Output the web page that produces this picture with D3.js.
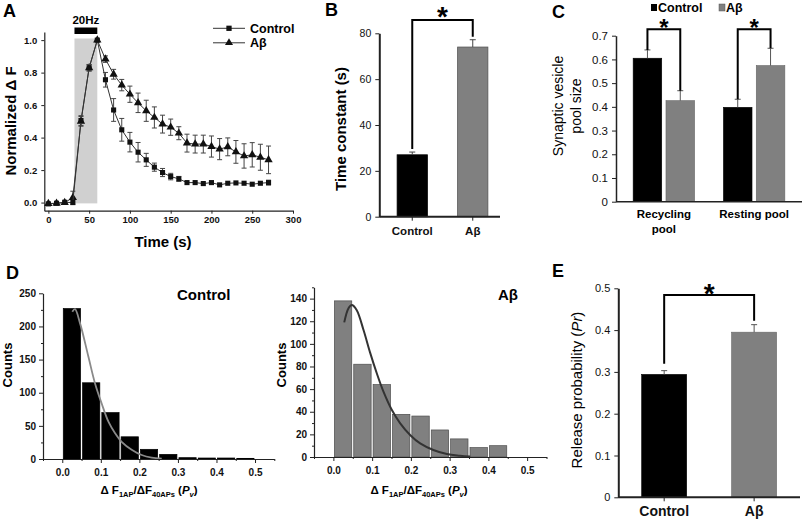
<!DOCTYPE html>
<html><head><meta charset="utf-8">
<script src="https://cdn.jsdelivr.net/npm/d3@7"></script>
<style>
body{margin:0;background:#fff}
svg text{font-family:Arial,"Liberation Sans",sans-serif}
</style>
</head><body>
<svg id="c" width="803" height="526"></svg>
<script>
// ---------- DATA ----------
// Panel A
const timeA = [0,10,20,30,40,50,60,70,80,90,100,110,120,130,140,150,160,170,180,190,200,210,220,230,240,250,260,270];
const ctrlA = [-0.008,-0.004,0.002,0.0,0.505,0.83,1.0,0.756,0.57,0.448,0.372,0.31,0.263,0.218,0.185,0.16,0.146,0.123,0.123,0.117,0.123,0.109,0.119,0.121,0.119,0.113,0.119,0.123];
const ctrlErrA = [0.01,0.005,0.01,0.01,0.03,0.02,0.0,0.045,0.07,0.07,0.06,0.06,0.04,0.025,0.025,0.02,0.015,0.01,0.01,0.01,0.01,0.01,0.01,0.01,0.01,0.01,0.01,0.015];
const abA = [-0.006,-0.004,0.0,0.03,0.5,0.83,1.0,0.883,0.79,0.723,0.667,0.614,0.565,0.524,0.483,0.464,0.427,0.366,0.36,0.36,0.345,0.329,0.343,0.312,0.287,0.294,0.279,0.263];
const abErrA = [0.01,0.005,0.01,0.04,0.03,0.02,0.0,0.02,0.03,0.035,0.05,0.06,0.065,0.065,0.055,0.05,0.04,0.055,0.055,0.055,0.065,0.065,0.055,0.07,0.075,0.075,0.08,0.085];
const stimA = [32, 60];
const seriesNamesA = ["Control", "Aβ"];
// Panel B
const groupsB = ["Control", "Aβ"];
const tauB = [27, 74];
const tauErrB = [1.2, 3.2];
// Panel C
const poolCats = ["Recycling pool", "Resting pool"];
const poolCtrl = [0.605, 0.398];
const poolCtrlErr = [0.035, 0.034];
const poolAb = [0.426, 0.574];
const poolAbErr = [0.042, 0.073];
// Panel D
const binStarts = [0,0.05,0.1,0.15,0.2,0.25,0.3,0.35,0.4,0.45];
const histCtrl = [227,115,70,33.5,14.6,7,2,1.5,1.5,1];
const histAb = [138,82,64,37.7,36.2,23.9,16,8.3,10,0];
const fitCtrlX = [0.026,0.033,0.046,0.0675,0.085,0.102,0.12,0.137,0.154,0.18,0.206,0.232,0.258];
const fitCtrlY = [222,226,205,155,114,84,56,39,26,14,6,2,0.5];
const fitAbX = [0.028,0.039,0.0475,0.06,0.078,0.095,0.112,0.129,0.151,0.172,0.198,0.224,0.258,0.293,0.327,0.353];
const fitAbY = [119,131.5,134.4,130,112,92,74,58,41.5,30,19.5,12,6.2,2.6,1.2,0.5];
// Panel E
const groupsE = ["Control", "Aβ"];
const prE = [0.294, 0.395];
const prErrE = [0.009, 0.018];

// ---------- DRAW ----------
const svg = d3.select("#c");
const GRAY = "#808080";

function letter(x, y, t) {
  svg.append("text").attr("x", x).attr("y", y).text(t)
    .attr("font-size", 18).attr("font-weight", "bold");
}
function styleAxis(g, fs, fw) {
  g.selectAll("path").attr("stroke", "#222").attr("stroke-width", 1.2);
  g.selectAll("line").attr("stroke", "#222");
  g.selectAll("text").attr("font-size", fs).attr("font-weight", fw)
    .attr("font-family", "Arial, 'Liberation Sans', sans-serif").attr("fill", "#111");
}
function star(x, y, fs) {
  svg.append("text").attr("x", x).attr("y", y).attr("text-anchor", "middle")
    .attr("font-size", fs).attr("font-weight", "bold").text("*");
}
function bracket(x1, y1, x2, y2, yTop) {
  svg.append("path").attr("d", `M${x1},${y1}V${yTop}H${x2}V${y2}`)
    .attr("fill", "none").attr("stroke", "#000").attr("stroke-width", 2);
}
function rotLabel(x, y, t, fs, fw) {
  return svg.append("text").attr("transform", `translate(${x},${y}) rotate(-90)`)
    .attr("text-anchor", "middle").attr("font-size", fs).attr("font-weight", fw).text(t);
}

// ===== Panel A =====
letter(3, 17, "A");
{
  const x = d3.scaleLinear().domain([-5, 300]).range([44.3, 293]);
  const y = d3.scaleLinear().domain([-0.05, 1.05]).range([210.7, 32]);
  svg.append("rect").attr("x", x(stimA[0])).attr("width", x(stimA[1]) - x(stimA[0]))
    .attr("y", y(1.01)).attr("height", y(-0.005) - y(1.01)).attr("fill", "#d0d0d0");
  svg.append("rect").attr("x", x(stimA[0])).attr("width", x(stimA[1]) - x(stimA[0]))
    .attr("y", 27.5).attr("height", 6.5).attr("fill", "#000");
  svg.append("text").attr("x", (x(stimA[0]) + x(stimA[1])) / 2).attr("y", 23.5)
    .attr("text-anchor", "middle").attr("font-size", 11.5).attr("font-weight", "bold").text("20Hz");
  const ax = svg.append("g").attr("transform", "translate(0,210.7)")
    .call(d3.axisBottom(x).tickValues([0,50,100,150,200,250,300]).tickSize(3).tickSizeOuter(0).tickPadding(3));
  styleAxis(ax, 9.5, "bold");
  const ay = svg.append("g").attr("transform", "translate(44.3,0)")
    .call(d3.axisLeft(y).tickValues([0,0.2,0.4,0.6,0.8,1.0]).tickFormat(d3.format(".1f")).tickSize(3).tickSizeOuter(0).tickPadding(4));
  styleAxis(ay, 9.5, "bold");
  rotLabel(15.5, 121, "Normalized Δ F", 15, "bold");
  svg.append("text").attr("x", 163).attr("y", 247).attr("text-anchor", "middle")
    .attr("font-size", 15).attr("font-weight", "bold").text("Time (s)");

  const sets = [[abA, abErrA, d3.symbolTriangle, 30], [ctrlA, ctrlErrA, d3.symbolSquare, 26]];
  sets.forEach(([vals, errs, sym, sz]) => {
    const line = d3.line().x((d, i) => x(timeA[i])).y(d => y(d));
    svg.append("path").attr("d", line(vals)).attr("fill", "none").attr("stroke", "#333").attr("stroke-width", 1);
    vals.forEach((v, i) => {
      const e = errs[i];
      if (e > 0.012) {
        const cx = x(timeA[i]);
        svg.append("path").attr("d", `M${cx},${y(v - e)}V${y(v + e)}M${cx - 2.5},${y(v + e)}H${cx + 2.5}M${cx - 2.5},${y(v - e)}H${cx + 2.5}`)
          .attr("stroke", "#444").attr("stroke-width", 1).attr("fill", "none");
      }
    });
    svg.append("g").selectAll("path").data(vals).join("path")
      .attr("transform", (d, i) => `translate(${x(timeA[i])},${y(d)})`)
      .attr("d", d3.symbol().type(sym).size(sz)).attr("fill", "#111");
  });
  // legend
  const legSyms = [d3.symbolSquare, d3.symbolTriangle];
  seriesNamesA.forEach((n, i) => {
    const ly = 28.3 + i * 14.5;
    svg.append("line").attr("x1", 213).attr("x2", 245).attr("y1", ly).attr("y2", ly).attr("stroke", "#333");
    svg.append("path").attr("transform", `translate(229,${ly})`).attr("d", d3.symbol().type(legSyms[i]).size(28)).attr("fill", "#111");
    svg.append("text").attr("x", 250).attr("y", ly + 4.5).attr("font-size", 12.5).attr("font-weight", "bold").text(n);
  });
}

// ===== Panel B =====
letter(325, 16, "B");
{
  const x = d3.scaleBand().domain(groupsB).range([382, 503]).paddingInner(0.5).paddingOuter(0.25);
  const y = d3.scaleLinear().domain([0, 80]).range([216.7, 33.3]);
  groupsB.forEach((g, i) => {
    svg.append("rect").attr("x", x(g)).attr("width", x.bandwidth()).attr("y", y(tauB[i]))
      .attr("height", y(0) - y(tauB[i])).attr("fill", i ? GRAY : "#000").attr("stroke", i ? "#555" : "#000").attr("stroke-width", 0.8);
    const cx = x(g) + x.bandwidth() / 2;
    svg.append("path").attr("d", `M${cx},${y(tauB[i])}V${y(tauB[i] + tauErrB[i])}M${cx - 3},${y(tauB[i] + tauErrB[i])}H${cx + 3}`)
      .attr("stroke", "#444").attr("fill", "none");
  });
  const ay = svg.append("g").attr("transform", "translate(379.3,0)")
    .call(d3.axisLeft(y).tickValues([0,20,40,60,80]).tickSize(4).tickSizeOuter(0).tickPadding(4));
  styleAxis(ay, 10.5, "normal");
  ay.select("path").attr("stroke-width", 2);
  const ax = svg.append("g").attr("transform", "translate(0,216.7)")
    .call(d3.axisBottom(x).tickSize(4).tickSizeOuter(0).tickPadding(6));
  ax.select("path").attr("d", "M379.3,0H500");
  styleAxis(ax, 11.5, "bold");
  ax.select("path").attr("stroke-width", 2);
  const c0 = x(groupsB[0]) + x.bandwidth() / 2, c1 = x(groupsB[1]) + x.bandwidth() / 2;
  bracket(c0, y(tauB[0] + tauErrB[0]) - 3, c1, y(tauB[1] + tauErrB[1]) - 3, 20);
  star((c0 + c1) / 2, 26, 28);
  rotLabel(346, 129, "Time constant (s)", 15, "bold");
}

// ===== Panel C =====
letter(552, 18, "C");
{
  const x0 = d3.scaleBand().domain(poolCats).range([616, 802]).paddingInner(0.32).paddingOuter(0.19);
  const x1 = d3.scaleBand().domain(["c", "a"]).range([0, x0.bandwidth()]).paddingInner(0.13);
  const y = d3.scaleLinear().domain([0, 0.7]).range([201.7, 35.7]);
  const ay = svg.append("g").attr("transform", "translate(616,0)")
    .call(d3.axisLeft(y).tickValues([0,0.1,0.2,0.3,0.4,0.5,0.6,0.7]).tickFormat(d => d === 0 ? "0" : d3.format(".1f")(d)).tickSize(4).tickSizeOuter(0).tickPadding(4));
  styleAxis(ay, 11.5, "normal");
  ay.select("path").attr("stroke-width", 1.5);
  const tops = [];
  poolCats.forEach((cat, i) => {
    [["c", poolCtrl[i], poolCtrlErr[i], "#000"], ["a", poolAb[i], poolAbErr[i], GRAY]].forEach(([k, v, e, col]) => {
      const bx = x0(cat) + x1(k);
      svg.append("rect").attr("x", bx).attr("width", x1.bandwidth()).attr("y", y(v)).attr("height", y(0) - y(v))
        .attr("fill", col).attr("stroke", k === "a" ? "#666" : "#000").attr("stroke-width", 0.6);
      const cx = bx + x1.bandwidth() / 2;
      svg.append("path").attr("d", `M${cx},${y(v)}V${y(v + e)}M${cx - 3},${y(v + e)}H${cx + 3}`).attr("stroke", "#555").attr("fill", "none");
      tops.push([cx, y(v + e)]);
    });
  });
  svg.append("line").attr("x1", 616).attr("x2", 802).attr("y1", 201.7).attr("y2", 201.7).attr("stroke", "#222").attr("stroke-width", 1.5);
  bracket(tops[0][0], tops[0][1], tops[1][0], tops[1][1], 29.3);
  bracket(tops[2][0], tops[2][1], tops[3][0], tops[3][1], 29.3);
  star((tops[0][0] + tops[1][0]) / 2, 36, 24);
  star((tops[2][0] + tops[3][0]) / 2, 36, 24);
  // category labels
  const cl = [["Recycling", "pool"], ["Resting pool"]];
  poolCats.forEach((cat, i) => {
    cl[i].forEach((t, j) => {
      svg.append("text").attr("x", x0(cat) + x0.bandwidth() / 2).attr("y", 218 + j * 15)
        .attr("text-anchor", "middle").attr("font-size", 11.5).attr("font-weight", "bold").text(t);
    });
  });
  // legend
  svg.append("rect").attr("x", 651).attr("y", 4).attr("width", 6).attr("height", 7).attr("fill", "#000");
  svg.append("text").attr("x", 658).attr("y", 12).attr("font-size", 12.5).attr("font-weight", "bold").text("Control");
  svg.append("rect").attr("x", 719).attr("y", 4).attr("width", 6).attr("height", 7).attr("fill", GRAY).attr("stroke", "#555").attr("stroke-width", 0.5);
  svg.append("text").attr("x", 726).attr("y", 12).attr("font-size", 12.5).attr("font-weight", "bold").text("Aβ");
  rotLabel(563, 106, "Synaptic vesicle", 14, "normal");
  rotLabel(581, 106, "pool size", 14, "normal");
}

// ===== Panel D =====
letter(6, 279, "D");
function histPanel(o) {
  const x = d3.scaleLinear().domain([-0.05, 0.55]).range(o.xr);
  const y = d3.scaleLinear().domain([0, o.ymax]).range([o.y0, o.ytop]);
  o.vals.forEach((v, i) => {
    if (v <= 0) return;
    svg.append("rect").attr("x", x(binStarts[i]) + 1).attr("width", x(binStarts[i] + 0.05) - x(binStarts[i]) - 2)
      .attr("y", y(v)).attr("height", y(0) - y(v)).attr("fill", o.fill).attr("stroke", o.stroke).attr("stroke-width", 0.7);
  });
  const line = d3.line().x((d, i) => x(o.fx[i])).y(d => y(d)).curve(d3.curveCatmullRom);
  svg.append("path").attr("d", line(o.fy)).attr("fill", "none").attr("stroke", o.curve).attr("stroke-width", o.cw);
  const ax = svg.append("g").attr("transform", `translate(0,${o.y0})`)
    .call(d3.axisBottom(x).tickValues([0,0.1,0.2,0.3,0.4,0.5]).tickFormat(d3.format(".1f")).tickSize(4).tickSizeOuter(0).tickPadding(6));
  styleAxis(ax, 10, "bold");
  const axm = svg.append("g").attr("transform", `translate(0,${o.y0})`)
    .call(d3.axisBottom(x).tickValues([-0.05,0.05,0.15,0.25,0.35,0.45,0.55]).tickFormat("").tickSize(2).tickSizeOuter(0));
  axm.select("path").remove(); axm.selectAll("line").attr("stroke", "#222");
  const ay = svg.append("g").attr("transform", `translate(${o.xr[0]},0)`)
    .call(d3.axisLeft(y).tickValues(o.major).tickSize(4).tickSizeOuter(0).tickPadding(3));
  styleAxis(ay, 10, "bold");
  const aym = svg.append("g").attr("transform", `translate(${o.xr[0]},0)`)
    .call(d3.axisLeft(y).tickValues(o.minor).tickFormat("").tickSize(2).tickSizeOuter(0));
  aym.select("path").remove(); aym.selectAll("line").attr("stroke", "#222");
  // title
  svg.append("text").attr("x", o.tx).attr("y", 300).attr("font-size", 15).attr("font-weight", "bold").text(o.title);
  // x label
  const t = svg.append("text").attr("x", o.xlc).attr("y", 494).attr("text-anchor", "middle")
    .attr("font-size", 11.5).attr("font-weight", "bold");
  t.append("tspan").text("Δ F");
  t.append("tspan").attr("font-size", 7.5).attr("dy", 3).text("1AP");
  t.append("tspan").attr("dy", -3).text("/ΔF");
  t.append("tspan").attr("font-size", 7.5).attr("dy", 3).text("40APs");
  t.append("tspan").attr("dy", -3).text(" (");
  t.append("tspan").attr("font-style", "italic").text("P");
  t.append("tspan").attr("font-style", "italic").attr("font-size", 7.5).attr("dy", 3).text("v");
  t.append("tspan").attr("dy", -3).text(")");
  rotLabel(o.clx, 365, "Counts", 13, "bold");
}
histPanel({xr: [43, 274.3], y0: 459, ytop: 293.3, ymax: 250, vals: histCtrl, fill: "#000", stroke: "#000",
  fx: fitCtrlX, fy: fitCtrlY, curve: "#8a8a8a", cw: 1.8, major: [0,50,100,150,200,250], minor: [25,75,125,175,225],
  title: "Control", tx: 177, xlc: 149, clx: 12});
histPanel({xr: [314, 546.5], y0: 457, ytop: 287.3, ymax: 150, vals: histAb, fill: "#808080", stroke: "#4d4d4d",
  fx: fitAbX, fy: fitAbY, curve: "#333", cw: 2, major: [0,20,40,60,80,100,120,140], minor: [10,30,50,70,90,110,130,150],
  title: "Aβ", tx: 498, xlc: 419, clx: 286});

// ===== Panel E =====
letter(552, 277, "E");
{
  const x = d3.scaleBand().domain(groupsE).range([618.3, 800]).paddingInner(0.5).paddingOuter(0.26);
  const y = d3.scaleLinear().domain([0, 0.5]).range([497.3, 288.3]);
  groupsE.forEach((g, i) => {
    svg.append("rect").attr("x", x(g)).attr("width", x.bandwidth()).attr("y", y(prE[i]))
      .attr("height", y(0) - y(prE[i])).attr("fill", i ? GRAY : "#000").attr("stroke", i ? "#666" : "#000").attr("stroke-width", 0.6);
    const cx = x(g) + x.bandwidth() / 2;
    svg.append("path").attr("d", `M${cx},${y(prE[i])}V${y(prE[i] + prErrE[i])}M${cx - 3},${y(prE[i] + prErrE[i])}H${cx + 3}`)
      .attr("stroke", "#555").attr("fill", "none");
  });
  const ay = svg.append("g").attr("transform", "translate(618.3,0)")
    .call(d3.axisLeft(y).tickValues([0,0.1,0.2,0.3,0.4,0.5]).tickFormat(d => d === 0 ? "0" : d3.format(".1f")(d)).tickSize(4).tickSizeOuter(0).tickPadding(4));
  styleAxis(ay, 11, "normal");
  ay.select("path").attr("stroke-width", 2);
  const ax = svg.append("g").attr("transform", "translate(0,497.3)")
    .call(d3.axisBottom(x).tickSize(4).tickSizeOuter(0).tickPadding(5));
  ax.select("path").attr("d", "M618.3,0H800");
  styleAxis(ax, 14, "bold");
  ax.select("path").attr("stroke-width", 2);
  const c0 = x(groupsE[0]) + x.bandwidth() / 2, c1 = x(groupsE[1]) + x.bandwidth() / 2;
  bracket(c0, y(prE[0] + prErrE[0]) - 7, c1, y(prE[1] + prErrE[1]) - 4, 295);
  star((c0 + c1) / 2, 303, 28);
  const t = svg.append("text").attr("transform", "translate(582,390) rotate(-90)").attr("text-anchor", "middle").attr("font-size", 15);
  t.append("tspan").text("Release probability (");
  t.append("tspan").attr("font-style", "italic").text("Pr");
  t.append("tspan").text(")");
}
</script>
</body></html>
